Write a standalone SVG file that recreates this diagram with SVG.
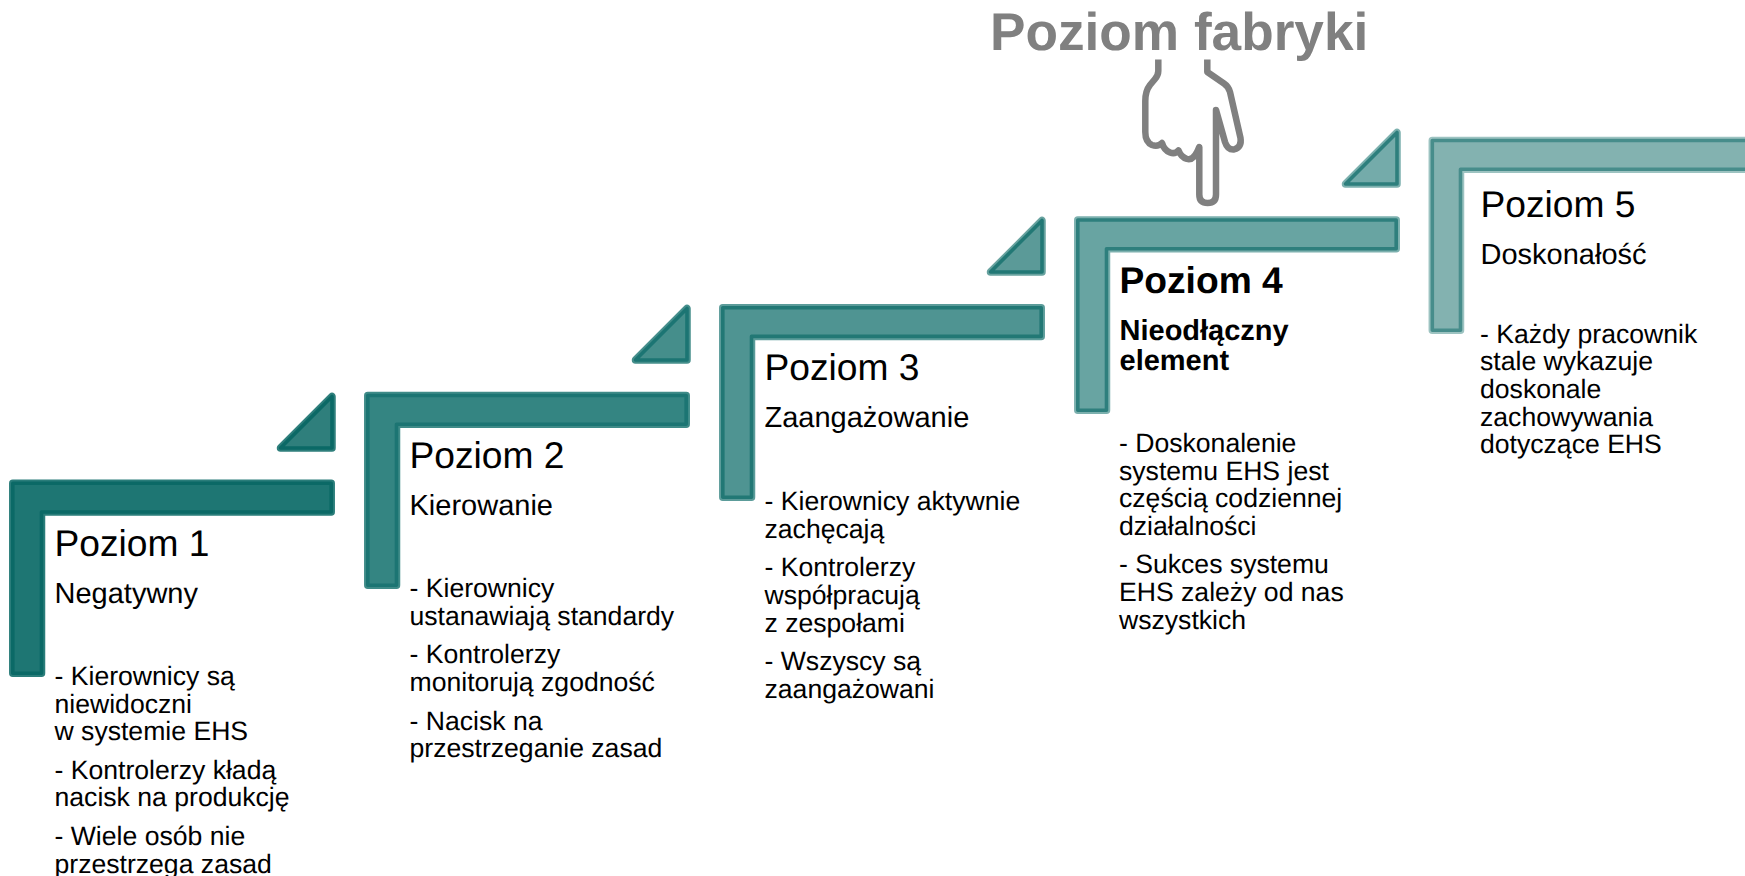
<svg xmlns="http://www.w3.org/2000/svg" width="1745" height="876" viewBox="0 0 1745 876">
<style>
text{font-family:"Liberation Sans",Arial,sans-serif;fill:#000;text-rendering:geometricPrecision}
.t{font-size:37.200px}.s{font-size:29px}.b{font-size:26.600px}
.bb{font-weight:bold}
.h{stroke-width:7.500;stroke-linejoin:round;fill:none}
.d{stroke-width:3.600;stroke-linejoin:round}
</style>
<rect width="1745" height="876" fill="#fff"/>
<g id="hand" fill="none" stroke="#808080" stroke-width="6.500" stroke-linejoin="round">
<path d="M1158.300 59.500V71Q1158.300 75 1155 79L1150 85Q1145.300 91 1145.300 101V132Q1145.300 142 1152 145Q1158 147 1162 143Q1164 150 1170 152.500Q1175 154.500 1178.500 150.500Q1181 157 1187 159Q1194 161 1199.300 147V194.500Q1199.300 203 1207.700 203Q1216 203 1216 194.500V110L1225 142Q1227.500 150 1234 149.500Q1242 147 1240.500 138L1230 92Q1228.500 86.500 1224 83.500L1207.300 72V59.500"/>
</g>
<text id="title" x="990" y="50" font-size="53.200" font-weight="bold" style="fill:#808080">Poziom fabryki</text>
<g id="level1">
<path class="h" d="M12.800 483.300H331.200V512H41.500V673.200H12.800Z" stroke="#2a7d7a"/>
<path class="d" d="M12.800 483.300H331.200V512H41.500V673.200H12.800Z" fill="#1e7673" stroke="#0b6966"/>
<path class="h" d="M280.500 448L332 396.500V448Z" stroke="#2f7f7c"/>
<path class="d" d="M280.500 448L332 396.500V448Z" fill="#2f7f7c" stroke="#0b6966"/>
<text class="t" x="54.500" y="556">Poziom 1</text>
<text class="s" x="54.500" y="603">Negatywny</text>
<text class="b" x="54.500" y="685">- Kierownicy są</text><text class="b" x="54.500" y="713">niewidoczni</text><text class="b" x="54.500" y="740">w systemie EHS</text><text class="b" x="54.500" y="779">- Kontrolerzy kładą</text><text class="b" x="54.500" y="806">nacisk na produkcję</text><text class="b" x="54.500" y="845">- Wiele osób nie</text><text class="b" x="54.500" y="873">przestrzega zasad</text>
</g>
<g id="level2">
<path class="h" d="M367.800 395.500H686.200V424.200H396.500V585.200H367.800Z" stroke="#3f8b88"/>
<path class="d" d="M367.800 395.500H686.200V424.200H396.500V585.200H367.800Z" fill="#348582" stroke="#1c7573"/>
<path class="h" d="M635.500 360L687 308.500V360Z" stroke="#458e8b"/>
<path class="d" d="M635.500 360L687 308.500V360Z" fill="#458e8b" stroke="#1c7573"/>
<text class="t" x="409.500" y="468">Poziom 2</text>
<text class="s" x="409.500" y="515">Kierowanie</text>
<text class="b" x="409.500" y="597">- Kierownicy</text><text class="b" x="409.500" y="625">ustanawiają standardy</text><text class="b" x="409.500" y="663">- Kontrolerzy</text><text class="b" x="409.500" y="691">monitorują zgodność</text><text class="b" x="409.500" y="730">- Nacisk na</text><text class="b" x="409.500" y="757">przestrzeganie zasad</text>
</g>
<g id="level3">
<path class="h" d="M722.800 307.700H1041.200V336.400H751.500V497.200H722.800Z" stroke="#5c9c9a"/>
<path class="d" d="M722.800 307.700H1041.200V336.400H751.500V497.200H722.800Z" fill="#4f9492" stroke="#227875"/>
<path class="h" d="M990.500 272L1042 220.500V272Z" stroke="#68a29f"/>
<path class="d" d="M990.500 272L1042 220.500V272Z" fill="#5b9a98" stroke="#227875"/>
<text class="t" x="764.500" y="380">Poziom 3</text>
<text class="s" x="764.500" y="427">Zaangażowanie</text>
<text class="b" x="764.500" y="510">- Kierownicy aktywnie</text><text class="b" x="764.500" y="538">zachęcają</text><text class="b" x="764.500" y="576">- Kontrolerzy</text><text class="b" x="764.500" y="604">współpracują</text><text class="b" x="764.500" y="632">z zespołami</text><text class="b" x="764.500" y="669.500">- Wszyscy są</text><text class="b" x="764.500" y="697.500">zaangażowani</text>
</g>
<g id="level4">
<path class="h" d="M1077.800 220H1396.200V248.700H1106.500V410.200H1077.800Z" stroke="#7cb0ae"/>
<path class="d" d="M1077.800 220H1396.200V248.700H1106.500V410.200H1077.800Z" fill="#68a4a2" stroke="#2e7f7d"/>
<path class="h" d="M1345.500 184L1397 132.500V184Z" stroke="#7cb0ae"/>
<path class="d" d="M1345.500 184L1397 132.500V184Z" fill="#74abaa" stroke="#2e7f7d"/>
<text class="t bb" x="1119.500" y="293">Poziom 4</text>
<text class="s bb" x="1119.500" y="340">Nieodłączny</text><text class="s bb" x="1119.500" y="370">element</text>
<text class="b" x="1119" y="452">- Doskonalenie</text><text class="b" x="1119" y="480">systemu EHS jest</text><text class="b" x="1119" y="507">częścią codziennej</text><text class="b" x="1119" y="535">działalności</text><text class="b" x="1119" y="573">- Sukces systemu</text><text class="b" x="1119" y="601">EHS zależy od nas</text><text class="b" x="1119" y="629">wszystkich</text>
</g>
<g id="level5">
<path class="h" d="M1432.300 140.500H1770V169.200H1460.500V330.200H1432.300Z" stroke="#9dc3c1"/>
<path class="d" d="M1432.300 140.500H1770V169.200H1460.500V330.200H1432.300Z" fill="#83b2b0" stroke="#478d8b"/>
<text class="t" x="1480.500" y="217">Poziom 5</text>
<text class="s" x="1480.500" y="264">Doskonałość</text>
<text class="b" x="1480" y="343">- Każdy pracownik</text><text class="b" x="1480" y="370">stale wykazuje</text><text class="b" x="1480" y="398">doskonale</text><text class="b" x="1480" y="426">zachowywania</text><text class="b" x="1480" y="453">dotyczące EHS</text>
</g>
</svg>
